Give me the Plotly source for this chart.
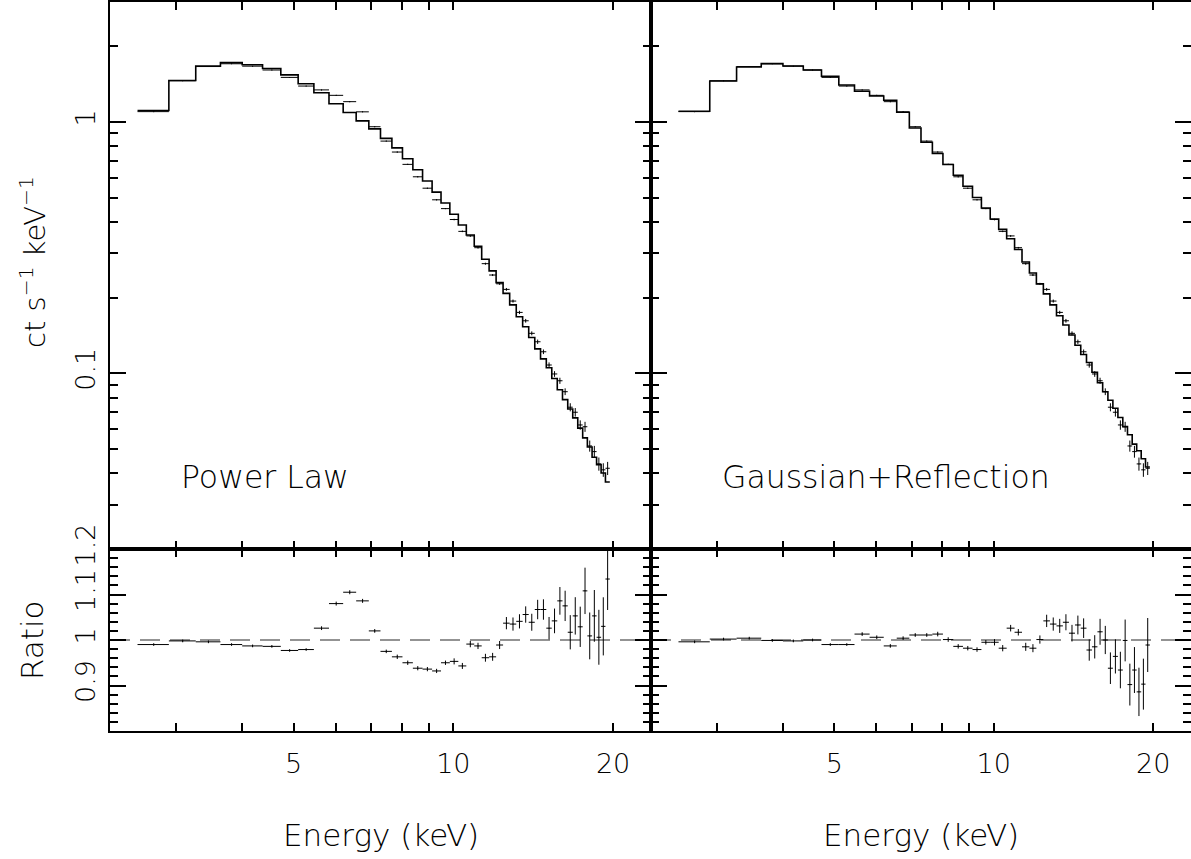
import math
import plotly.graph_objects as go

# ---------------- data ----------------
# energy bin edges (keV), 47 bins
bin_edges = [2.54, 2.91, 3.27, 3.64, 4.00, 4.37, 4.73, 5.10, 5.46, 5.83,
             6.20, 6.56, 6.93, 7.29, 7.66, 8.02, 8.39, 8.75, 9.12, 9.48,
             9.85, 10.22, 10.58, 10.95, 11.31, 11.68, 12.04, 12.41, 12.77, 13.14,
             13.51, 13.87, 14.24, 14.60, 14.97, 15.33, 15.70, 16.06, 16.43, 16.79,
             17.16, 17.53, 17.89, 18.26, 18.62, 18.99, 19.35, 19.72]

# observed count spectrum (ct s^-1 keV^-1)
counts = [1.099, 1.458, 1.661, 1.704, 1.667, 1.609, 1.504, 1.389, 1.341, 1.276,
          1.204, 1.097, 0.957, 0.839, 0.759, 0.678, 0.605, 0.545, 0.490, 0.452,
          0.409, 0.367, 0.352, 0.316, 0.273, 0.246, 0.227, 0.2157, 0.1938, 0.1747,
          0.1618, 0.1442, 0.1335, 0.1218, 0.1079, 0.0994, 0.0934, 0.0845, 0.0733, 0.0700,
          0.0623, 0.0613, 0.0514, 0.0488, 0.0436, 0.0413, 0.0419]

# fractional 1-sigma errors of the counts
rel_err = [0.003, 0.003, 0.003, 0.003, 0.003, 0.003, 0.003, 0.003, 0.004, 0.004,
           0.004, 0.004, 0.004, 0.004, 0.005, 0.005, 0.005, 0.005, 0.005, 0.005,
           0.007, 0.007, 0.007, 0.007, 0.009, 0.009, 0.009, 0.013, 0.014, 0.015,
           0.017, 0.018, 0.020, 0.021, 0.024, 0.026, 0.028, 0.031, 0.037, 0.039,
           0.043, 0.046, 0.051, 0.054, 0.060, 0.062, 0.060]

# data / model ratio, power-law fit
ratio_pl = [0.990, 0.998, 0.996, 0.990, 0.987, 0.986, 0.977, 0.979, 1.026, 1.080,
            1.105, 1.086, 1.020, 0.975, 0.963, 0.950, 0.938, 0.936, 0.932, 0.950,
            0.953, 0.943, 0.991, 0.987, 0.961, 0.963, 0.989, 1.037, 1.035, 1.041,
            1.056, 1.039, 1.067, 1.067, 1.026, 1.042, 1.086, 1.075, 1.017, 1.053,
            1.029, 1.108, 1.009, 1.053, 1.006, 1.030, 1.134]

# data / model ratio, Gaussian + reflection fit
ratio_gr = [0.996, 1.002, 1.004, 0.999, 0.998, 1.000, 0.990, 0.990, 1.013, 1.006,
            0.987, 1.004, 1.011, 1.011, 1.013, 1.001, 0.986, 0.982, 0.979, 0.995,
            0.995, 0.982, 1.026, 1.017, 0.985, 0.982, 1.001, 1.042, 1.035, 1.031,
            1.039, 1.015, 1.033, 1.026, 0.978, 0.985, 1.018, 1.000, 0.938, 0.964,
            0.934, 0.999, 0.902, 0.934, 0.886, 0.903, 0.989]

panel_labels = ["Power Law", "Gaussian+Reflection"]
x_tick_vals = [5, 10, 20]
x_minor_vals = [3, 4, 6, 7, 8, 9]
y_tick_vals = [0.1, 1]
y_minor_vals = [0.03, 0.04, 0.05, 0.06, 0.07, 0.08, 0.09,
                0.2, 0.3, 0.4, 0.5, 0.6, 0.7, 0.8, 0.9, 2]
r_tick_vals = [0.9, 1, 1.1, 1.2]
r_minor_vals = [0.82, 0.84, 0.86, 0.88, 0.92, 0.94, 0.96, 0.98,
                1.02, 1.04, 1.06, 1.08, 1.12, 1.14, 1.16, 1.18]

# ---------------- layout geometry ----------------
W, H = 1191, 859
FONT = "DejaVu Sans"
FW = 200
x_range = [math.log10(2.254), math.log10(23.58)]
y_range = [math.log10(0.02), math.log10(3.0)]
r_range = [0.8, 1.2]

left_dom = [110 / W, 651 / W]
right_dom = [651 / W, 1.0]
top_dom = [1 - 549 / H, 1 - 2 / H]
bot_dom = [1 - 731 / H, 1 - 549 / H]

lo = bin_edges[:-1]
hi = bin_edges[1:]
centers = [(a + b) / 2 for a, b in zip(lo, hi)]
ex_plus = [b - c for b, c in zip(hi, centers)]
ex_minus = [c - a for a, c in zip(lo, centers)]

fig = go.Figure()

panels = [
    (ratio_pl, "x", "y", "x2", "y2"),
    (ratio_gr, "x3", "y3", "x4", "y4"),
]

for ratios, xt, yt, xb, yb in panels:
    model = [d / r for d, r in zip(counts, ratios)]
    # model step curve
    fig.add_trace(go.Scatter(
        x=bin_edges, y=model + [model[-1]], mode="lines", line_shape="hv",
        line=dict(color="black", width=1.6), xaxis=xt, yaxis=yt,
        hoverinfo="skip", showlegend=False))
    # data crosses
    fig.add_trace(go.Scatter(
        x=centers, y=counts, mode="markers",
        marker=dict(size=1, color="black"),
        error_x=dict(type="data", symmetric=False, array=ex_plus,
                     arrayminus=ex_minus, width=0, thickness=1, color="black"),
        error_y=dict(type="data", array=[c * e for c, e in zip(counts, rel_err)],
                     width=0, thickness=1, color="black"),
        xaxis=xt, yaxis=yt, showlegend=False))
    # ratio crosses
    fig.add_trace(go.Scatter(
        x=centers, y=ratios, mode="markers",
        marker=dict(size=1, color="black"),
        error_x=dict(type="data", symmetric=False, array=ex_plus,
                     arrayminus=ex_minus, width=0, thickness=1, color="black"),
        error_y=dict(type="data", array=[r * e for r, e in zip(ratios, rel_err)],
                     width=0, thickness=1, color="black"),
        xaxis=xb, yaxis=yb, showlegend=False))

common_axis = dict(showline=True, linecolor="black", linewidth=2, mirror="ticks",
                   ticks="inside", tickcolor="black", tickwidth=1.5,
                   showgrid=False, zeroline=False, automargin=False,
                   tickfont=dict(family=FONT, size=27, color="black", weight=FW))

def xax(dom, anchor, labels):
    d = dict(common_axis)
    d.update(domain=dom, anchor=anchor, type="log", range=x_range,
             tickmode="array", tickvals=x_tick_vals,
             ticktext=[str(v) for v in x_tick_vals], ticklen=8,
             showticklabels=labels, ticklabelstandoff=8,
             minor=dict(tickmode="array", tickvals=x_minor_vals, ticklen=8,
                        ticks="inside", tickcolor="black", tickwidth=1.5))
    return d

def yax_top(dom, anchor, labels):
    d = dict(common_axis)
    d.update(domain=dom, anchor=anchor, type="log", range=y_range,
             tickmode="array", tickvals=y_tick_vals, ticktext=["0.1", "1"],
             ticklen=16, tickangle=-90, showticklabels=labels,
             ticklabelstandoff=2,
             minor=dict(tickmode="array", tickvals=y_minor_vals, ticklen=8,
                        ticks="inside", tickcolor="black", tickwidth=1.5))
    return d

def yax_bot(dom, anchor, labels):
    d = dict(common_axis)
    d.update(domain=dom, anchor=anchor, range=r_range,
             tickmode="array", tickvals=r_tick_vals,
             ticktext=["0.9", "1", "1.1", "1.2"],
             ticklen=16, tickangle=-90, showticklabels=labels,
             ticklabelstandoff=2,
             minor=dict(tickmode="array", tickvals=r_minor_vals, ticklen=8,
                        ticks="inside", tickcolor="black", tickwidth=1.5))
    return d

fig.update_layout(
    template="none",
    width=W, height=H, margin=dict(l=0, r=0, t=0, b=0, pad=0, autoexpand=False),
    paper_bgcolor="white", plot_bgcolor="white",
    xaxis=xax(left_dom, "y", False),
    yaxis=yax_top(top_dom, "x", True),
    xaxis2=xax(left_dom, "y2", True),
    yaxis2=yax_bot(bot_dom, "x2", True),
    xaxis3=xax(right_dom, "y3", False),
    yaxis3=yax_top(top_dom, "x3", False),
    xaxis4=xax(right_dom, "y4", True),
    yaxis4=yax_bot(bot_dom, "x4", False),
)

shapes = []
# dashed unity line in the ratio panels
for xb, yb in [("x2", "y2"), ("x4", "y4")]:
    shapes.append(dict(type="line", xref=xb + " domain", yref=yb,
                       x0=0, x1=1, y0=1, y1=1, layer="below",
                       line=dict(color="#707070", width=1.5, dash="20px,10px")))
# longer decade tick at 10 keV on each horizontal axis edge
tick_len = 16 / H
for xr, dom in [("x", top_dom), ("x2", bot_dom), ("x3", top_dom), ("x4", bot_dom)]:
    for edge, sgn in [(dom[0], 1), (dom[1], -1)]:
        shapes.append(dict(type="line", xref=xr, yref="paper",
                           x0=math.log10(10), x1=math.log10(10),
                           y0=edge, y1=edge + sgn * tick_len,
                           line=dict(color="black", width=1.5)))
fig.update_layout(shapes=shapes)

ann = []
for dom in [left_dom, right_dom]:
    ann.append(dict(text="Energy (keV)", xref="paper", yref="paper",
                    x=(dom[0] + dom[1]) / 2, y=1 - 835 / H, showarrow=False,
                    xanchor="center", yanchor="middle",
                    font=dict(family=FONT, size=31, color="black", weight=FW)))
ann.append(dict(text="ct s<sup>\u22121</sup> keV<sup>\u22121</sup>", xref="paper",
                yref="paper", x=33 / W, y=1 - 262 / H, textangle=-90,
                showarrow=False, xanchor="center", yanchor="middle",
                font=dict(family=FONT, size=29, color="black", weight=FW)))
ann.append(dict(text="Ratio", xref="paper", yref="paper", x=32 / W,
                y=1 - 640 / H, textangle=-90, showarrow=False,
                xanchor="center", yanchor="middle",
                font=dict(family=FONT, size=31, color="black", weight=FW)))
for label, x0 in zip(panel_labels, [179, 720]):
    ann.append(dict(text=label, xref="paper", yref="paper", x=x0 / W,
                    y=1 - 477 / H, showarrow=False, xanchor="left",
                    yanchor="middle",
                    font=dict(family=FONT, size=31.5, color="black", weight=FW)))
fig.update_layout(annotations=ann)

fig.write_html("out.html")
